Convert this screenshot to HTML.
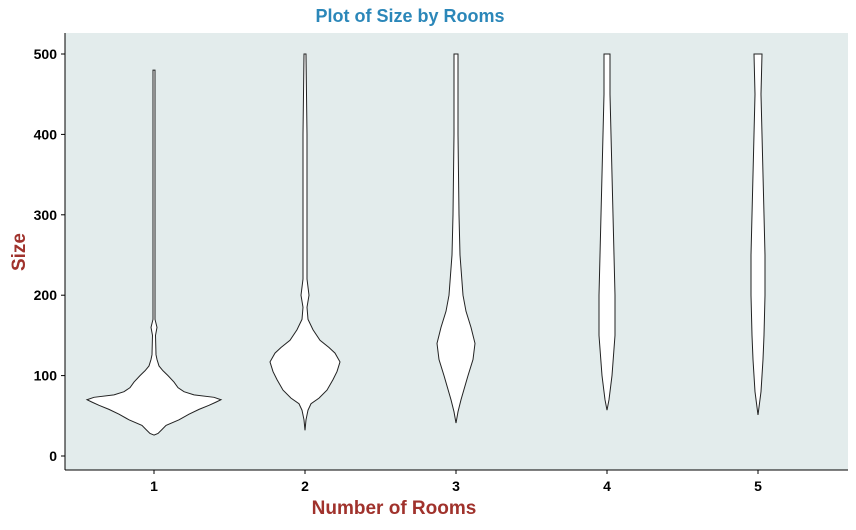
<!DOCTYPE html>
<html><head><meta charset="utf-8"><style>
body{margin:0;background:#fff;}
svg text{font-family:"Liberation Sans",Arial,sans-serif;font-weight:bold;}
</style></head><body>
<svg id="chart" width="856" height="525" xmlns="http://www.w3.org/2000/svg">
<rect x="65" y="33" width="783" height="437" fill="#e3ecec"/>
<g id="marks"></g>
<line x1="65" y1="33" x2="65" y2="470" stroke="#000" stroke-width="1"/>
<line x1="65" y1="470" x2="848" y2="470" stroke="#000" stroke-width="1"/>
<g id="axes"></g>
<text x="410" y="22" text-anchor="middle" font-size="18" fill="#2b87b9">Plot of Size by Rooms</text>
<text x="394" y="514" text-anchor="middle" font-size="19" fill="#a0322c">Number of Rooms</text>
<text transform="translate(25,252) rotate(-90)" text-anchor="middle" font-size="19" fill="#a0322c">Size</text>
</svg>
<script>
const categories = ["1","2","3","4","5"];
const yTicks = [0,100,200,300,400,500];
// density profiles: [size, relative density]
const v1 = [[26,0],[28,4],[33,8],[38,12],[45,25],[52,35],[58,45],[63,55],[67,62],[70,67],[73,60],[76,40],[80,30],[85,24],[92,20],[100,14],[106,9],[112,5],[120,3],[126,2],[150,1.5],[160,3],[170,1],[300,1],[480,1]];
const v2 = [[32,0],[45,1],[57,3],[65,6],[72,14],[82,22],[95,28],[105,32],[117,35],[128,30],[135,24],[144,15],[157,8],[170,3],[185,2],[200,4],[220,2],[300,2],[400,2],[500,1]];
const v3 = [[41,0],[55,2],[70,5],[100,12],[120,17],[140,19],[160,15],[180,10],[200,7],[250,4],[300,3],[400,2],[500,2]];
const v4 = [[57,0],[70,2],[100,5],[150,8],[200,8],[250,7],[300,6],[350,5],[400,4],[450,3],[500,3]];
const v5 = [[51,0],[80,3],[120,5],[150,6],[200,7],[250,7],[300,6],[350,5],[400,4],[450,3],[500,4]];
const violins = [v1,v2,v3,v4,v5];

const NS="http://www.w3.org/2000/svg";
const y = v => 456 - v*0.804;
const x = i => 154 + i*151;
const w = d => d;
const marks=document.getElementById('marks'), axes=document.getElementById('axes');
violins.forEach((pts,i)=>{
  const cx=x(i);
  let left=pts.map(p=>[cx-w(p[1]),y(p[0])]);
  let right=pts.slice().reverse().map(p=>[cx+w(p[1]),y(p[0])]);
  const p=document.createElementNS(NS,'path');
  p.setAttribute('d','M'+left.map(a=>a.join(',')).join(' L')+' L'+right.map(a=>a.join(',')).join(' L')+' Z');
  p.setAttribute('fill','#fff');p.setAttribute('stroke','#222');p.setAttribute('stroke-width','1');
  
  
  marks.appendChild(p);
});
yTicks.forEach(t=>{
  const l=document.createElementNS(NS,'line');
  l.setAttribute('x1',61);l.setAttribute('x2',65);l.setAttribute('y1',y(t));l.setAttribute('y2',y(t));l.setAttribute('stroke','#000');
  
  
  axes.appendChild(l);
  const tx=document.createElementNS(NS,'text');
  tx.setAttribute('x',57);tx.setAttribute('y',y(t)+5);tx.setAttribute('text-anchor','end');tx.setAttribute('font-size','14');
  tx.textContent=t;
  
  
  axes.appendChild(tx);
});
categories.forEach((c,i)=>{
  const l=document.createElementNS(NS,'line');
  l.setAttribute('x1',x(i));l.setAttribute('x2',x(i));l.setAttribute('y1',470);l.setAttribute('y2',474);l.setAttribute('stroke','#000');
  
  
  axes.appendChild(l);
  const tx=document.createElementNS(NS,'text');
  tx.setAttribute('x',x(i));tx.setAttribute('y',491);tx.setAttribute('text-anchor','middle');tx.setAttribute('font-size','14');
  tx.textContent=c;
  
  
  axes.appendChild(tx);
});
</script>
</body></html>
